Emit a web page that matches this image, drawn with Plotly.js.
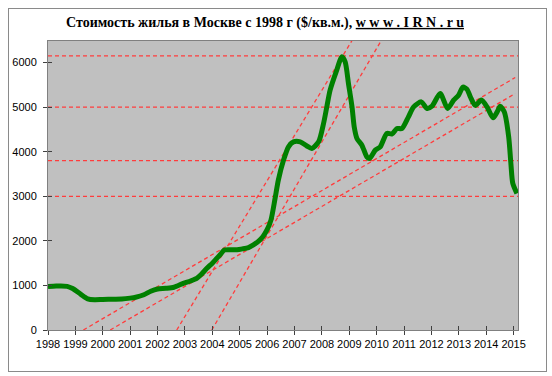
<!DOCTYPE html>
<html>
<head>
<meta charset="utf-8">
<script src="https://cdn.plot.ly/plotly-3.0.1.min.js"></script>
<style>
  html, body { margin: 0; padding: 0; background: #ffffff; }
  #wrap { position: relative; width: 552px; height: 376px; }
  #chart { position: absolute; left: 0; top: 0; width: 552px; height: 376px; }
  #frame { position: absolute; left: 8px; top: 8px; width: 539px; height: 364px;
           box-sizing: border-box; border: 1px solid #8a8a8a; pointer-events: none; }
</style>
</head>
<body>
<div id="wrap">
  <div id="chart"></div>
  <div id="frame"></div>
</div>
<script>
// ---- Data ----
const years = [1998,1999,2000,2001,2002,2003,2004,2005,2006,2007,2008,2009,2010,2011,2012,2013,2014,2015];
const yearLabels = years.map(String);
const yTicks = [0,1000,2000,3000,4000,5000,6000];

// Price series ($/sq.m.)
const priceX = [1998.0,1998.3,1998.7,1998.9,1999.2,1999.45,1999.7,2000.0,2000.4,2000.7,2001.0,2001.2,2001.5,2001.75,2002.0,2002.3,2002.6,2002.94,2003.2,2003.43,2003.6,2003.8,2004.0,2004.16,2004.3,2004.44,2004.7,2004.9,2005.1,2005.32,2005.5,2005.68,2005.85,2006.0,2006.14,2006.29,2006.41,2006.6,2006.78,2006.96,2007.21,2007.45,2007.63,2007.88,2008.06,2008.18,2008.3,2008.52,2008.73,2008.85,2008.97,2009.1,2009.18,2009.28,2009.46,2009.64,2009.74,2009.95,2010.13,2010.37,2010.56,2010.74,2010.92,2011.16,2011.35,2011.63,2011.84,2012.02,2012.32,2012.59,2012.81,2012.99,2013.15,2013.3,2013.42,2013.6,2013.82,2014.03,2014.25,2014.4,2014.51,2014.66,2014.82,2014.9,2014.97,2015.12];
const priceY = [975,985,980,930,800,700,680,685,690,695,715,735,790,870,920,935,960,1047,1100,1159,1250,1383,1500,1607,1700,1794,1800,1800,1820,1850,1910,1990,2100,2250,2466,2950,3363,3812,4110,4222,4222,4130,4074,4222,4634,5007,5381,5792,6130,6016,5531,5007,4558,4298,4148,3886,3850,4036,4110,4410,4400,4522,4520,4783,5007,5119,4970,5022,5306,4970,5157,5269,5450,5400,5231,5040,5160,5007,4760,4895,5020,4895,4334,3738,3289,3065];

// Horizontal support/resistance levels
const levels = [6150, 5000, 3800, 3000];
const levelX = [1998, 2015.16];

// Trend lines: start/end points
const trendStartX = [2002.70, 2003.98, 1999.29, 2000.27];
const trendStartY = [0, 0, 0, 0];
const trendEndX   = [2009.30, 2010.40, 2015.06, 2015.06];
const trendEndY   = [6700, 6740, 5666, 5307];

// ---- Styles ----
const xRange = [1998, 2015.16];
const yRange = [0, 6485];
const redLine = {color: 'rgb(255,60,60)', width: 1.3, dash: '4px,3px'};

const traces = [];
levels.forEach(v => {
  traces.push({x: levelX, y: [v, v], mode: 'lines', line: redLine,
               hoverinfo: 'skip', showlegend: false, xaxis: 'x', yaxis: 'y'});
});
for (let i = 0; i < trendStartX.length; i++) {
  traces.push({x: [trendStartX[i], trendEndX[i]], y: [trendStartY[i], trendEndY[i]],
               mode: 'lines', line: redLine, hoverinfo: 'skip', showlegend: false,
               xaxis: 'x', yaxis: 'y'});
}
traces.push({x: priceX, y: priceY, mode: 'lines',
             line: {color: 'rgb(0,128,0)', width: 5, shape: 'spline', smoothing: 0.7},
             showlegend: false, xaxis: 'x2', yaxis: 'y2'});

const tickFont = {family: 'Liberation Sans, Arial, sans-serif', size: 11, color: '#000000'};

const layout = {
  width: 552, height: 376,
  margin: {l: 48, r: 34, t: 41, b: 46, pad: 0},
  paper_bgcolor: '#ffffff',
  plot_bgcolor: '#c0c0c0',
  showlegend: false,
  title: {
    text: '<b>Стоимость жилья в Москве с 1998 г ($/кв.м.), <u>w w w . I R N . r u</u></b>',
    font: {family: 'Liberation Serif, Times New Roman, serif', size: 14, color: '#000000'},
    x: 265/552, xref: 'container', xanchor: 'center',
    y: 1 - 22/376, yref: 'container', yanchor: 'middle'
  },
  xaxis: {
    range: xRange, tickmode: 'array', tickvals: years, ticktext: yearLabels,
    ticks: 'outside', ticklen: 4, tickwidth: 1, tickcolor: '#404040',
    showline: true, linecolor: '#808080', linewidth: 1, mirror: true,
    showgrid: false, zeroline: false, tickfont: tickFont, fixedrange: true
  },
  yaxis: {
    range: yRange, tickmode: 'array', tickvals: yTicks,
    ticks: 'outside', ticklen: 4, tickwidth: 1, tickcolor: '#404040',
    showline: true, linecolor: '#808080', linewidth: 1, mirror: true,
    showgrid: false, zeroline: false, tickfont: tickFont, ticklabelstandoff: 4, fixedrange: true
  },
  xaxis2: {
    overlaying: 'x', range: xRange, tickmode: 'array', tickvals: years,
    ticks: 'inside', ticklen: 4, tickwidth: 1, tickcolor: '#404040',
    showticklabels: false, showline: false, showgrid: false, zeroline: false, side: 'bottom'
  },
  yaxis2: {
    overlaying: 'y', range: yRange, tickmode: 'array', tickvals: yTicks,
    ticks: 'inside', ticklen: 4, tickwidth: 1, tickcolor: '#404040',
    showticklabels: false, showline: false, showgrid: false, zeroline: false, side: 'left'
  }
};

Plotly.newPlot('chart', traces, layout, {staticPlot: true, displayModeBar: false});
</script>
</body>
</html>
